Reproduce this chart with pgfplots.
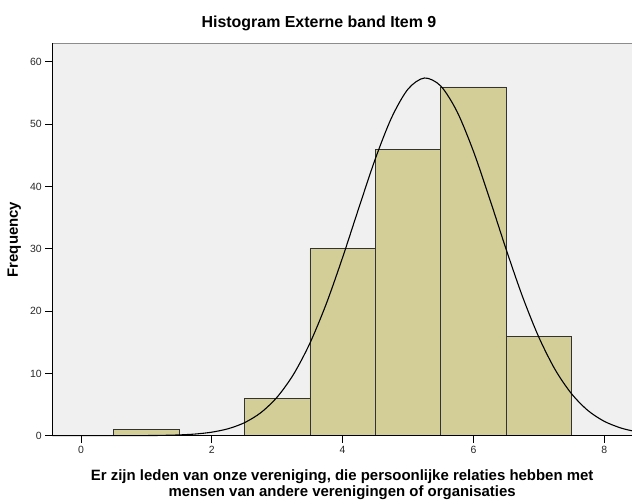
\documentclass[border=0pt]{standalone}
\usepackage{pgfplots}
\pgfplotsset{compat=1.18}
\usepackage{fontspec}
\setmainfont{Liberation Sans}
\definecolor{barfill}{RGB}{211,206,151}
\definecolor{bgc}{RGB}{240,240,240}
\definecolor{tickc}{RGB}{40,40,40}
\begin{document}
\begin{tikzpicture}
\begin{axis}[
  name=ax,
  scale only axis,
  width=579.7bp, height=392.4bp,
  xmin=-0.439, xmax=8.425,
  ymin=0, ymax=63.0,
  clip=false,
  axis line style={draw=none},
  axis background/.style={fill=bgc},
  xtick={0,2,4,6,8},
  ytick={0,10,20,30,40,50,60},
  xtick pos=left, ytick pos=left,
  tick align=outside,
  major tick length=7bp,
  tick style={draw=black, line width=1bp},
  /pgf/number format/assume math mode=true,
  tick label style={font=\fontsize{10.5}{12}\selectfont, text=tickc},
  xlabel={Er zijn leden van onze vereniging, die persoonlijke relaties hebben met\\mensen van andere verenigingen of organisaties},
  xlabel style={at={(axis description cs:0.5,-0.1554)}, anchor=base, align=center,
     font=\fontsize{15}{16}\bfseries},
  ylabel={Frequency},
  ylabel style={at={(axis description cs:-0.0656,0.5)}, anchor=center, rotate=0,
     font=\fontsize{15}{16}\bfseries},
  title={Histogram Externe band Item 9},
  title style={at={(axis description cs:0.46,1.0262)}, anchor=base,
     font=\fontsize{16}{18}\bfseries},
]
\addplot[ybar, bar width=1, fill=barfill, draw=black!80, line width=0.8bp]
  coordinates {(1,1) (3,6) (4,30) (5,46) (6,56) (7,16)};
\addplot[smooth, black, line width=1.1bp, mark=none]
  coordinates {
  (-0.439,0) (0,0.0004) (0.5,0.003) (1,0.022) (1.25,0.054) (1.5,0.125) (1.75,0.27)
  (2,0.569) (2.25,1.12) (2.5,2.09) (2.75,3.70) (3,6.21) (3.25,9.86) (3.5,14.85)
  (3.75,21.17) (4,28.62) (4.25,36.63) (4.5,44.45) (4.75,51.09) (5,55.65)
  (5.25,57.43) (5.5,56.15) (5.75,52.03) (6,45.67) (6.25,37.99) (6.5,29.94)
  (6.75,22.36) (7,15.82) (7.25,10.60) (7.5,6.74) (7.75,4.05) (8,2.31)
  (8.25,1.25) (8.425,0.79)
  };
\end{axis}
\draw[black!45, line width=1.5bp] (ax.north west) -- (ax.north east);
\draw[black, line width=1bp] (ax.north west) -- (ax.south west) -- (ax.south east);
\foreach \t in {28.71,159.51,290.31,421.11,551.91}{
  \draw[black, line width=1bp] (\t bp,0bp) -- (\t bp,-7bp);
}
\foreach \t in {0,62.29,124.57,186.86,249.14,311.43,373.71}{
  \draw[black, line width=1bp] (0bp,\t bp) -- (-7bp,\t bp);
}
\pgfresetboundingbox
\path[use as bounding box] (-52.3bp,-64.3bp) rectangle (579.7bp,435.7bp);
\end{tikzpicture}
\end{document}
